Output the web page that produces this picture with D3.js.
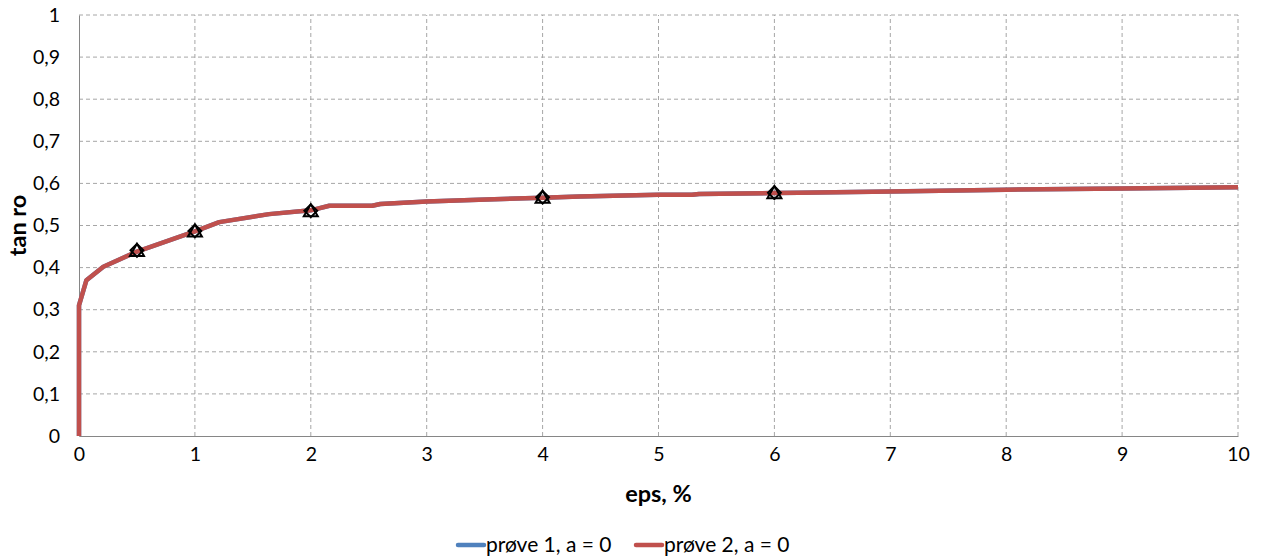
<!DOCTYPE html>
<html>
<head>
<meta charset="utf-8">
<script src="https://cdn.jsdelivr.net/npm/d3@7"></script>
<style>
  body { margin: 0; background: #fff; }
  text { font-family: Lato, "Open Sans", sans-serif; fill: #000; }
</style>
</head>
<body>
<div id="chart"></div>
<script>
// curve (eps %, tan ro)
const epsValues = [0, 0, 0.064, 0.21, 0.5, 1, 1.21, 1.64, 2, 2.16, 2.53, 2.6, 3, 3.45, 4, 4.32, 5, 5.29, 5.35, 6, 6.21, 7, 8, 9, 10];
const prove2Tan = [0, 0.31, 0.37, 0.402, 0.438, 0.486, 0.508, 0.527, 0.536, 0.547, 0.547, 0.551, 0.557, 0.561, 0.566, 0.569, 0.573, 0.573, 0.575, 0.577, 0.578, 0.581, 0.585, 0.588, 0.591];
const prove1Tan = prove2Tan.slice();

// marker points
const markerEps = [0.5, 1, 2, 4, 6];
const markerTan = [0.441, 0.487, 0.535, 0.567, 0.578];

const xTicks = [0, 1, 2, 3, 4, 5, 6, 7, 8, 9, 10];
const yTicks = [0, 0.1, 0.2, 0.3, 0.4, 0.5, 0.6, 0.7, 0.8, 0.9, 1];

const seriesNames = ["prøve 1, a = 0", "prøve 2, a = 0"];
const seriesColors = ["#4F81BD", "#C0504D"];

const width = 1262, height = 558;
const margin = {top: 15, right: 24, bottom: 122, left: 79};

const svg = d3.select("#chart").append("svg")
  .attr("width", width)
  .attr("height", height);

const x = d3.scaleLinear().domain([0, 10]).range([margin.left, width - margin.right]);
const y = d3.scaleLinear().domain([0, 1]).range([height - margin.bottom, margin.top]);

const fmt = d => d3.format(".1~f")(d).replace(".", ",");

// grid
svg.append("g")
  .selectAll("line")
  .data(yTicks.filter(d => d > 0))
  .join("line")
  .attr("x1", x(0)).attr("x2", x(10))
  .attr("y1", d => y(d)).attr("y2", d => y(d))
  .attr("stroke", "#a6a6a6").attr("stroke-dasharray", "4,3");

svg.append("g")
  .selectAll("line")
  .data(xTicks.filter(d => d > 0))
  .join("line")
  .attr("x1", d => x(d)).attr("x2", d => x(d))
  .attr("y1", y(0)).attr("y2", y(1))
  .attr("stroke", "#a6a6a6").attr("stroke-dasharray", "4,3");

// axes
const xAxis = g => g
  .attr("transform", `translate(0,${y(0)})`)
  .call(d3.axisBottom(x).tickValues(xTicks).tickSize(0).tickPadding(11).tickFormat(fmt))
  .call(g => g.select(".domain").attr("stroke", "#868686"))
  .call(g => g.selectAll("text").attr("font-size", 19.5).attr("font-family", "Lato, sans-serif"));

const yAxis = g => g
  .attr("transform", `translate(${x(0)},0)`)
  .call(d3.axisLeft(y).tickValues(yTicks).tickSize(0).tickPadding(19).tickFormat(fmt))
  .call(g => g.select(".domain").attr("stroke", "#868686"))
  .call(g => g.selectAll("text").attr("font-size", 19.5).attr("font-family", "Lato, sans-serif"));

svg.append("g").call(xAxis);
svg.append("g").call(yAxis);

svg.append("text")
  .attr("x", (x(0) + x(10)) / 2).attr("y", 502)
  .attr("text-anchor", "middle")
  .attr("font-size", 23.5).attr("font-weight", "bold")
  .text("eps, %");

svg.append("text")
  .attr("transform", `translate(26,${y(0.5)}) rotate(-90)`)
  .attr("text-anchor", "middle")
  .attr("font-size", 23.5).attr("font-weight", "bold")
  .text("tan ro");

// lines
const line = d3.line()
  .x((d, i) => x(epsValues[i]))
  .y(d => y(d));

[prove1Tan, prove2Tan].forEach((vals, i) => {
  svg.append("path")
    .datum(vals)
    .attr("fill", "none")
    .attr("stroke", seriesColors[i])
    .attr("stroke-width", 4.5)
    .attr("stroke-linejoin", "round")
    .attr("d", line);
});

// markers: triangle + diamond overlaid
const markers = markerEps.map((e, i) => [e, markerTan[i]]);
[[d3.symbolTriangle, 85, 1.5], [d3.symbolDiamond2, 105, 0]].forEach(([type, size, dy]) => {
  svg.append("g")
    .selectAll("path")
    .data(markers)
    .join("path")
    .attr("transform", d => `translate(${x(d[0])},${y(d[1]) + dy})`)
    .attr("d", d3.symbol(type, size))
    .attr("fill", "none")
    .attr("stroke", "#000")
    .attr("stroke-width", 2);
});

// legend
const legend = svg.append("g");
const legendX = [458, 636];
seriesNames.forEach((name, i) => {
  legend.append("line")
    .attr("x1", legendX[i]).attr("x2", legendX[i] + 26)
    .attr("y1", 545).attr("y2", 545)
    .attr("stroke", seriesColors[i]).attr("stroke-width", 4.5)
    .attr("stroke-linecap", "round");
  legend.append("text")
    .attr("x", legendX[i] + 28).attr("y", 552)
    .attr("font-size", 21)
    .text(name);
});
</script>
</body>
</html>
